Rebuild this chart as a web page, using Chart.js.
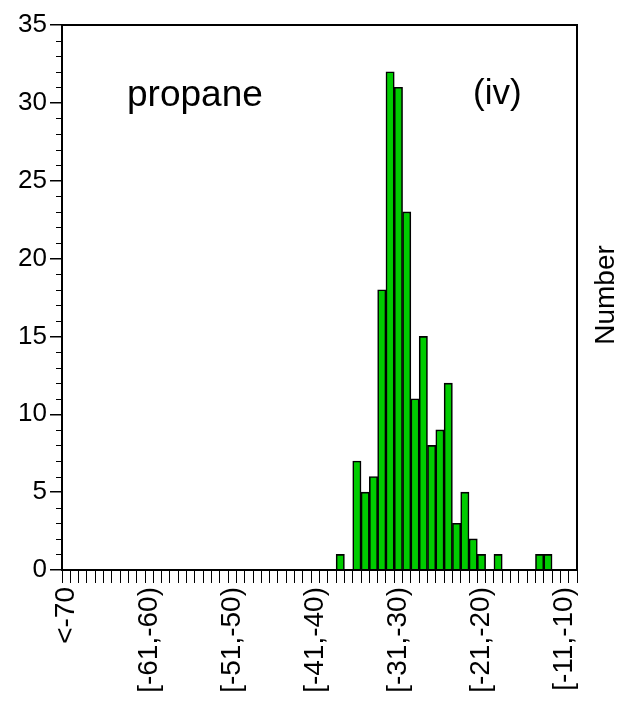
<!DOCTYPE html>
<html>
<head>
<meta charset="utf-8">
<title>propane</title>
<script src="https://cdn.jsdelivr.net/npm/chart.js@4.4.1/dist/chart.umd.min.js"></script>
<style>
  html, body { margin: 0; padding: 0; background: #fff; }
  #histo { display: block; }
</style>
</head>
<body>
<canvas id="histo" width="629" height="706"></canvas>
<script>
// bins: "<-70" then 1-unit bins [-70,-69) ... [-10,-9)
const binLabels = ['<-70'];
for (let lo = -70; lo <= -10; lo++) {
  binLabels.push('[' + lo + ',' + (lo + 1) + ')');
}

// number of samples per bin
const counts = [
  0, 0, 0, 0, 0, 0, 0, 0, 0, 0,
  0, 0, 0, 0, 0, 0, 0, 0, 0, 0,
  0, 0, 0, 0, 0, 0, 0, 0, 0, 0,
  0, 0, 0, 1, 0, 7, 5, 6, 18, 32,
  31, 23, 11, 15, 8, 9, 12, 3, 5, 2,
  1, 0, 1, 0, 0, 0, 0, 1, 1, 0,
  0, 0
];

// only these bins get a label on the x axis
const shownLabels = ['<-70', '[-61,-60)', '[-51,-50)', '[-41,-40)', '[-31,-30)', '[-21,-20)', '[-11,-10)'];

const yMin = 0;
const yMax = 35;
const yStep = 5;

const FONT = "'Liberation Sans', Arial, Helvetica, sans-serif";

// frame around the plot, minor y ticks, and the free text
const decorations = {
  id: 'decorations',
  afterDraw(chart) {
    const ctx = chart.ctx;
    const area = chart.chartArea;
    const y = chart.scales.y;
    ctx.save();
    ctx.strokeStyle = '#000';
    ctx.lineWidth = 2;
    ctx.strokeRect(area.left, area.top, area.right - area.left, area.bottom - area.top);

    ctx.lineWidth = 1.2;
    ctx.beginPath();
    for (let v = yMin; v <= yMax; v++) {
      if (v % yStep === 0) continue;
      const py = Math.round(y.getPixelForValue(v)) + 0.5;
      ctx.moveTo(area.left - 6, py);
      ctx.lineTo(area.left, py);
    }
    ctx.stroke();

    ctx.fillStyle = '#000';
    ctx.textBaseline = 'alphabetic';
    ctx.textAlign = 'left';
    ctx.font = '37px ' + FONT;
    ctx.fillText('propane', 127, 106);
    ctx.font = '35px ' + FONT;
    ctx.fillText('(iv)', 473, 104);

    ctx.font = '28px ' + FONT;
    ctx.textAlign = 'center';
    ctx.translate(614, 295);
    ctx.rotate(-Math.PI / 2);
    ctx.fillText('Number', 0, 0);
    ctx.restore();
  }
};

new Chart(document.getElementById('histo'), {
  type: 'bar',
  data: {
    labels: binLabels,
    datasets: [{
      data: counts,
      backgroundColor: '#00cc00',
      borderColor: '#000',
      borderWidth: 1.6,
      barPercentage: 1,
      categoryPercentage: 1
    }]
  },
  options: {
    responsive: false,
    devicePixelRatio: 1,
    animation: false,
    layout: { padding: { top: 25, right: 52, bottom: 0, left: 0 } },
    plugins: {
      legend: { display: false },
      tooltip: { enabled: false }
    },
    scales: {
      x: {
        offset: true,
        grid: {
          offset: true,
          drawOnChartArea: false,
          tickLength: 13,
          color: '#000',
          lineWidth: 1
        },
        border: { color: '#000', width: 2 },
        ticks: {
          autoSkip: false,
          minRotation: 90,
          maxRotation: 90,
          padding: 4,
          color: '#000',
          font: { family: FONT, size: 28 },
          callback(value, index) {
            const lab = binLabels[index];
            return shownLabels.includes(lab) ? lab : '';
          }
        },
        afterFit(scale) { scale.height = 136; }
      },
      y: {
        min: yMin,
        max: yMax,
        grid: {
          drawOnChartArea: false,
          tickLength: 12,
          color: '#000',
          lineWidth: 1.5
        },
        border: { color: '#000', width: 2 },
        ticks: {
          stepSize: yStep,
          padding: 3,
          color: '#000',
          font: { family: FONT, size: 26 }
        },
        afterFit(scale) { scale.width = 62; }
      }
    }
  },
  plugins: [decorations]
});
</script>
</body>
</html>
